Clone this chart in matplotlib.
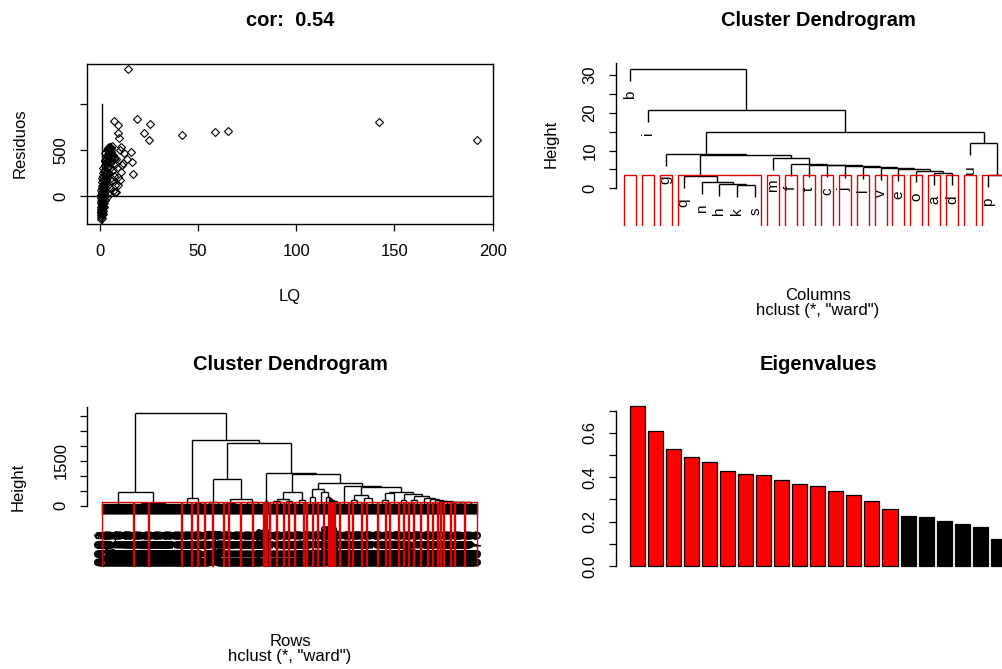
import matplotlib
matplotlib.use("Agg")
import matplotlib.pyplot as plt
from matplotlib.patches import Rectangle
from matplotlib.transforms import offset_copy

# ---------------- data ----------------
# Panel 1: residuals vs LQ
lq = [0.3, 0.5, 0.4, 0.8, 0.6, 1.0, 0.3, 0.7, 1.2, 0.5, 0.9, 1.4, 0.4, 0.8, 1.1, 1.6, 0.6, 1.0,
      1.3, 0.5, 1.8, 0.9, 1.2, 0.4, 1.5, 2.0, 0.7, 1.1, 1.7, 0.5, 2.2, 1.3, 0.8, 1.9, 1.0, 2.5,
      1.5, 0.6, 2.1, 1.2, 2.8, 1.7, 0.9, 2.4, 1.4, 3.0, 2.0, 1.1, 2.7, 1.6, 3.3, 2.2, 0.8, 2.9,
      1.8, 3.6, 2.5, 1.3, 3.1, 4.0, 2.0, 2.8, 3.5, 1.6, 4.3, 2.4, 3.2, 5.0, 3.8, 2.6, 4.6, 3.0,
      5.4, 4.0, 3.4, 4.8, 2.8, 5.8, 4.2, 3.6, 5.2, 4.5, 6.0, 3.9, 5.6, 6.5, 7.0, 6.2, 7.5, 5.0,
      6.8, 4.5, 7.2, 5.5, 6.0, 4.8, 7.8, 5.2, 6.4, 4.0, 3.5, 2.6, 2.2, 1.9, 1.6, 1.3, 1.0,
      14.4, 142.2, 192.2, 65.1, 58.4, 41.6, 18.7, 25.4, 22.4, 24.8, 7.3, 9.0, 9.2, 9.5, 10.9,
      15.9, 16.3, 16.6, 13.9, 12.2, 11.7, 10.5, 10.0, 9.2, 8.3, 8.6, 7.5, 5.8, 4.2, 2.5,
      5.1, 10.2, 11.0, 9.3, 7.6, 6.6, 8.0, 3.0, 4.4]
residuos = [-250, -230, -210, -200, -185, -175, -170, -160, -150, -140, -130, -120, -115, -105,
            -95, -90, -80, -70, -60, -55, -50, -40, -30, -25, -20, -15, -5, 0, 5, 10, 15, 20, 30,
            35, 45, 50, 60, 65, 75, 85, 90, 100, 110, 115, 125, 130, 140, 150, 160, 170, 175, 185,
            195, 205, 215, 220, 235, 245, 255, 260, 270, 285, 300, 310, 320, 335, 350, 355, 370,
            385, 395, 410, 420, 435, 450, 460, 470, 480, 495, 505, 515, 530, 540, 520, 500, 450,
            410, 380, 350, 300, 280, 240, 220, 200, 160, 130, 120, 90, 60, 30, -10, -40, -80,
            -120, -165, -200, -240,
            1385, 808, 608, 710, 692, 663, 837, 779, 681, 608, 812, 768, 681, 627, 536,
            482, 373, 239, 402, 464, 355, 265, 174, 120, 47, 300, 410, 518, 500, 391,
            536, 500, 337, 210, 47, 420, 400, 395, 405]

# Panel 2: column dendrogram, nodes are (height, left, right)
col_qs = (3.2, 'q', (1.6, 'n', (1.1, 'h', (0.8, 'k', 's'))))
col_chain = (8.1, 'm', (6.4, 'f', (6.2, 't', (6.1, 'c', (5.9, 'j', (5.6, 'l',
             (5.4, 'v', (5.2, 'e', (4.7, 'o', (4.0, 'a', 'd'))))))))))
col_left = (9.1, 'g', (8.9, col_qs, col_chain))
col_right = (11.9, 'u', (3.4, 'p', 'r'))
col_tree = (31.6, 'b', (20.8, 'i', (15.0, col_left, col_right)))
col_cut = 3.55

# Panel 3: row dendrogram; integers = number of rows in each red-boxed group
row_L = (447, 32, (95, 15, 33))
row_R1 = (267, 10, (95, 6, 7))
row_R2a = (880, (133, 8, 11), (223, (95, 5, 12), (110, 12, 11)))
row_P = (157, (125, 1, 1), (120, 1, 3))
row_Q = (447, (210, (150, 7, 7), (140, 5, 6)), (180, 9, 3))
row_S1 = (557, (300, 6, 5), (447, 6, (300, 5, (250, 1, (220, 1, (200, 1, (180, 1,
          (160, 1, (140, 1, 5)))))))))
row_U = (350, (200, 4, 9), (250, 5, 11))
row_V2 = (380, (200, 5, 5), (330, (180, 5, 7), (260, 7, (230, 5, (200, 5, (170, 3,
          (150, 3, (130, 7, (120, 4, (115, 10, 13))))))))))
row_V = (470, (413, (180, 8, 4), 9), row_V2)
row_S2 = (667, 9, (633, row_U, row_V))
row_S = (767, row_S1, row_S2)
row_Mb = (1047, row_Q, row_S)
row_R2b = (1075, row_P, row_Mb)
row_tree = (3080, row_L, (2190, row_R1, (2080, row_R2a, row_R2b)))
row_cut = 113

# Panel 4: eigenvalues
eigenvalues = [0.721, 0.607, 0.529, 0.493, 0.470, 0.429, 0.416, 0.410, 0.387, 0.368, 0.362,
               0.339, 0.321, 0.291, 0.257, 0.227, 0.221, 0.203, 0.191, 0.174, 0.120]
n_selected = 15

# ---------------- figure ----------------
W, H, DPI = 1003, 669, 100
plt.rcParams['font.family'] = ['Liberation Sans', 'DejaVu Sans']
FS = 12        # axis text
FS_T = 14.5    # titles
TOP_TITLE_Y, BOTTOM_TITLE_Y = 21, 364
fig = plt.figure(figsize=(W / DPI, H / DPI), dpi=DPI)
fig.patch.set_facecolor('white')


def px_axes(left, top, right, bottom):
    return fig.add_axes([left / W, 1 - bottom / H, (right - left) / W, (bottom - top) / H])


def htext(x, y, s, **kw):
    kw.setdefault('fontsize', FS)
    fig.text(x / W, 1 - y / H, s, ha='center', va='center', **kw)


def vtext(x, y, s):
    fig.text(x / W, 1 - y / H, s, ha='center', va='center', rotation=90, fontsize=FS)


def style_y(ax):
    ax.tick_params(axis='y', length=7 * 72 / DPI, width=0.9, pad=8.3, labelsize=FS)
    for lab in ax.get_yticklabels():
        lab.set_rotation(90)
        lab.set_va('center')


# ---- panel 1
ax1 = px_axes(87, 64, 493, 224)
ax1.plot(lq, residuos, linestyle='none', marker='D', ms=3.9, mfc='none', mec='black', mew=0.8)
ax1.axhline(0, color='black', lw=1.0)
ax1.plot([1, 1], [-304, 1000], color='black', lw=1.0)
ax1.set_xlim(-6.6, 200.2)
ax1.set_ylim(-304, 1435)
ax1.set_xticks([0, 50, 100, 150, 200])
ax1.set_yticks([0, 500, 1000])
ax1.set_yticklabels(['0', '500', ''])
ax1.tick_params(axis='x', length=7 * 72 / DPI, width=0.9, pad=9.5, labelsize=FS)
style_y(ax1)
for spn in ax1.spines.values():
    spn.set_linewidth(1.0)
htext(290, TOP_TITLE_Y, 'cor:  0.54', fontweight='bold', fontsize=FS_T)
htext(290, 296, 'LQ')
vtext(20, 143, 'Residuos')


# ---------------- dendrogram helper ----------------
def nleaves(n):
    if isinstance(n, str):
        return 1
    if isinstance(n, int):
        return n
    return nleaves(n[1]) + nleaves(n[2])


def draw_dendro(ax, tree, hang, hin, labels, cut, boxes_from_ints, lab_off, lab_kw, ybot):
    st = {'i': 1, 'seg': [], 'lab': []}

    def place(node):
        if isinstance(node, str):
            x = st['i']
            st['i'] += 1
            return x, None, node
        if isinstance(node, int):
            i0 = st['i']
            st['i'] += node
            if node == 1:
                return i0, None, labels[i0 - 1]
            i1 = i0 + node - 1
            st['seg'].append(([i0, i1], [hin, hin]))
            for x in range(i0, i1 + 1):
                st['seg'].append(([x, x], [hin, hin - hang]))
                st['lab'].append((x, hin - hang, labels[x - 1]))
            return (i0 + i1) / 2, hin, None
        h, a, b = node
        xa, ta, la = place(a)
        xb, tb, lb = place(b)
        for x, t, lab in ((xa, ta, la), (xb, tb, lb)):
            if t is None:
                st['seg'].append(([x, x], [h, h - hang]))
                st['lab'].append((x, h - hang, lab))
            else:
                st['seg'].append(([x, x], [h, t]))
        st['seg'].append(([xa, xb], [h, h]))
        return (xa + xb) / 2, h, None

    place(tree)
    for xs, ys in st['seg']:
        ax.plot(xs, ys, color='black', lw=1.0, solid_capstyle='butt')
    tr = offset_copy(ax.transData, fig=fig, x=0, y=-lab_off, units='dots')
    for x, y, s in st['lab']:
        ax.text(x, y, s, transform=tr, rotation=90, ha='center', va='top', **lab_kw)

    cnt = {'i': 1}

    def boxes(node):
        if isinstance(node, (str, int)) or (not boxes_from_ints and node[0] < cut):
            n = nleaves(node)
            i0 = cnt['i']
            cnt['i'] += n
            ax.add_patch(Rectangle((i0 - 0.34, ybot), (n - 1) + 0.67, cut - ybot,
                                   fill=False, edgecolor='#e00000', lw=1.0, zorder=3))
            return
        boxes(node[1])
        boxes(node[2])

    boxes(tree)


def dendro_axes(ax, ylim, ticks, ticklabels, top):
    ax.set_ylim(*ylim)
    for s in ('top', 'right', 'bottom'):
        ax.spines[s].set_visible(False)
    ax.spines['left'].set_bounds(0, top)
    ax.spines['left'].set_linewidth(1.0)
    ax.set_xticks([])
    ax.set_yticks(ticks)
    ax.set_yticklabels(ticklabels)
    style_y(ax)
    ax.patch.set_alpha(0)


# ---- panel 2
ax2 = px_axes(616, 60, 1040, 225.7)
x0 = 1 - 14 / 17.9
ax2.set_xlim(x0, x0 + (1040 - 616) / 17.9)
draw_dendro(ax2, col_tree, hang=0.1 * 31.6, hin=0, labels=[], cut=col_cut,
            boxes_from_ints=False, lab_off=10, lab_kw={'fontsize': 11}, ybot=-11)
dendro_axes(ax2, (-9.92, 34.0), [0, 5, 10, 15, 20, 25, 30],
            ['0', '', '10', '', '20', '', '30'], 33.2)
htext(818, TOP_TITLE_Y, 'Cluster Dendrogram', fontweight='bold', fontsize=FS_T)
htext(818, 296, 'Columns')
htext(818, 311, 'hclust (*, "ward")')
vtext(551, 144, 'Height')

# ---- panel 3
n_rows = nleaves(row_tree)
row_labels = ['%04d' % (k + 1) for k in range(n_rows)]
ax3 = px_axes(87, 400, 492, 566.7)
spc = (477 - 102) / (n_rows - 1)
ax3.set_xlim(1 - 15 / spc, n_rows + 15 / spc)
draw_dendro(ax3, row_tree, hang=0.1 * 3080, hin=40, labels=row_labels, cut=row_cut,
            boxes_from_ints=True, lab_off=15,
            lab_kw={'fontsize': 12}, ybot=-2200)
dendro_axes(ax3, (-2033, 3517), [0, 500, 1000, 1500, 2000, 2500, 3000],
            ['0', '', '', '1500', '', '', ''], 3300)
htext(290, BOTTOM_TITLE_Y, 'Cluster Dendrogram', fontweight='bold', fontsize=FS_T)
htext(290, 641, 'Rows')
htext(290, 657, 'hclust (*, "ward")')
vtext(18, 487, 'Height')

# ---- panel 4
ax4 = px_axes(616, 400, 1040, 572)
pos = [0.7 + 1.2 * i for i in range(len(eigenvalues))]
cols = ['#ff0000' if i < n_selected else 'black' for i in range(len(eigenvalues))]
ax4.bar(pos, eigenvalues, width=1.0, color=cols, edgecolor='black', lw=0.9)
ax4.set_xlim(-0.731, -0.731 + 424 / 15.03)
dendro_axes(ax4, (-0.027, 0.7477), [0, 0.1, 0.2, 0.3, 0.4, 0.5, 0.6, 0.7],
            ['0.0', '', '0.2', '', '0.4', '', '0.6', ''], 0.7)
htext(818, BOTTOM_TITLE_Y, 'Eigenvalues', fontweight='bold', fontsize=FS_T)

fig.savefig('out.png', dpi=DPI)
